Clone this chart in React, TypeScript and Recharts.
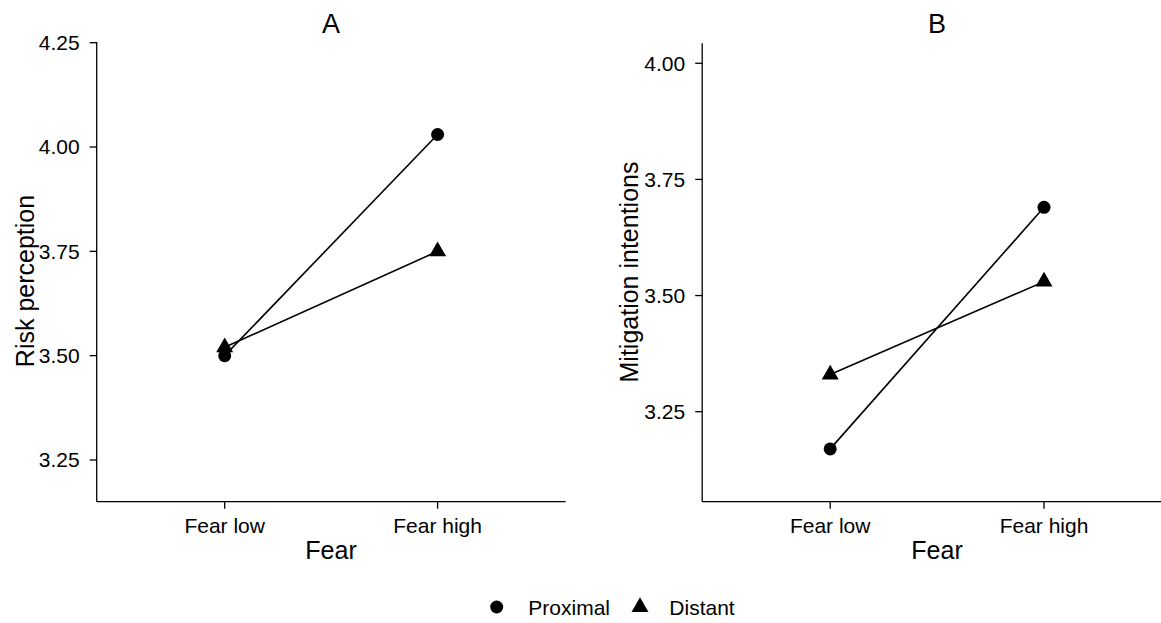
import React from 'react';
import { LineChart, Line, XAxis, YAxis } from 'recharts';

const categories = ['Fear low', 'Fear high'];
const riskProximal = [3.5, 4.03];
const riskDistant = [3.52, 3.75];
const mitProximal = [3.17, 3.69];
const mitDistant = [3.33, 3.53];
const riskTicks = [3.25, 3.5, 3.75, 4.0, 4.25];
const mitTicks = [3.25, 3.5, 3.75, 4.0];
const seriesNames = ['Proximal', 'Distant'];

const FONT = '"Liberation Sans", Arial, Helvetica, sans-serif';

const CircleDot = (props: any) => {
  const { cx, cy, index } = props;
  if (cx == null || cy == null) return <g key={`c${index}`} />;
  return <circle key={`c${index}`} cx={cx} cy={cy} r={6.5} fill="#000" />;
};

const TriDot = (props: any) => {
  const { cx, cy, index } = props;
  if (cx == null || cy == null) return <g key={`t${index}`} />;
  const r = 9.8;
  const pts = `${cx},${cy - r} ${cx + r * 0.866},${cy + r * 0.5} ${cx - r * 0.866},${cy + r * 0.5}`;
  return <polygon key={`t${index}`} points={pts} fill="#000" />;
};

interface PanelProps {
  prox: number[];
  dist: number[];
  ticks: number[];
  domain: [number, number];
  width: number;
  yAxisWidth: number;
  top: number;
  right: number;
}

const Panel = ({ prox, dist, ticks, domain, width, yAxisWidth, top, right }: PanelProps) => {
  const data = categories.map((c, i) => ({ fear: c, proximal: prox[i], distant: dist[i] }));
  const axisStyle = { stroke: '#000', strokeWidth: 1.3 };
  return (
    <LineChart width={width} height={623} data={data} margin={{ top, right, bottom: 0, left: 0 }}>
      <XAxis
        dataKey="fear"
        type="category"
        padding={{ left: 128, right: 128 }}
        height={121.3}
        tickSize={7}
        tickMargin={9}
        axisLine={axisStyle}
        tickLine={axisStyle}
        tick={{ fill: '#000', fontSize: 21, fontFamily: FONT }}
        interval={0}
      />
      <YAxis
        type="number"
        domain={domain}
        ticks={ticks}
        allowDataOverflow
        width={yAxisWidth}
        tickSize={7}
        tickMargin={10}
        axisLine={axisStyle}
        tickLine={axisStyle}
        tick={{ fill: '#000', fontSize: 21, fontFamily: FONT }}
        tickFormatter={(v: number) => v.toFixed(2)}
        interval={0}
      />
      <Line
        dataKey="proximal"
        name={seriesNames[0]}
        stroke="#000"
        strokeWidth={1.6}
        dot={CircleDot}
        activeDot={false}
        isAnimationActive={false}
      />
      <Line
        dataKey="distant"
        name={seriesNames[1]}
        stroke="#000"
        strokeWidth={1.6}
        dot={TriDot}
        activeDot={false}
        isAnimationActive={false}
      />
    </LineChart>
  );
};

export default function App() {
  return (
    <div
      style={{
        position: 'absolute',
        left: 0,
        top: 0,
        width: 1161,
        height: 623,
        overflow: 'hidden',
        background: '#fff',
        fontFamily: FONT,
      }}
    >
      <div style={{ position: 'absolute', left: 0, top: 0 }}>
        <Panel
          prox={riskProximal}
          dist={riskDistant}
          ticks={riskTicks}
          domain={[3.15, 4.2517]}
          width={580}
          yAxisWidth={96.7}
          top={42}
          right={14.4}
        />
      </div>
      <div style={{ position: 'absolute', left: 580, top: 0 }}>
        <Panel
          prox={mitProximal}
          dist={mitDistant}
          ticks={mitTicks}
          domain={[3.0563, 4.043]}
          width={592}
          yAxisWidth={122.2}
          top={43.3}
          right={0}
        />
      </div>
      <svg
        width={1161}
        height={623}
        style={{ position: 'absolute', left: 0, top: 0, pointerEvents: 'none' }}
        fontFamily={FONT}
      >
        <text x={331} y={33} textAnchor="middle" fontSize={27} fill="#000">A</text>
        <text x={937} y={33} textAnchor="middle" fontSize={27} fill="#000">B</text>
        <text x={331} y={559} textAnchor="middle" fontSize={25} fill="#000">Fear</text>
        <text x={937} y={559} textAnchor="middle" fontSize={25} fill="#000">Fear</text>
        <text transform="translate(34,281) rotate(-90)" textAnchor="middle" fontSize={25} fill="#000">Risk perception</text>
        <text transform="translate(638,272) rotate(-90)" textAnchor="middle" fontSize={25} fill="#000">Mitigation intentions</text>
        <circle cx={496.7} cy={607} r={6.5} fill="#000" />
        <text x={528.3} y={614.5} fontSize={21} fill="#000">{seriesNames[0]}</text>
        <polygon points={`640,${607 - 9.8} ${640 + 8.49},${607 + 4.9} ${640 - 8.49},${607 + 4.9}`} fill="#000" />
        <text x={669.3} y={614.5} fontSize={21} fill="#000">{seriesNames[1]}</text>
      </svg>
    </div>
  );
}
